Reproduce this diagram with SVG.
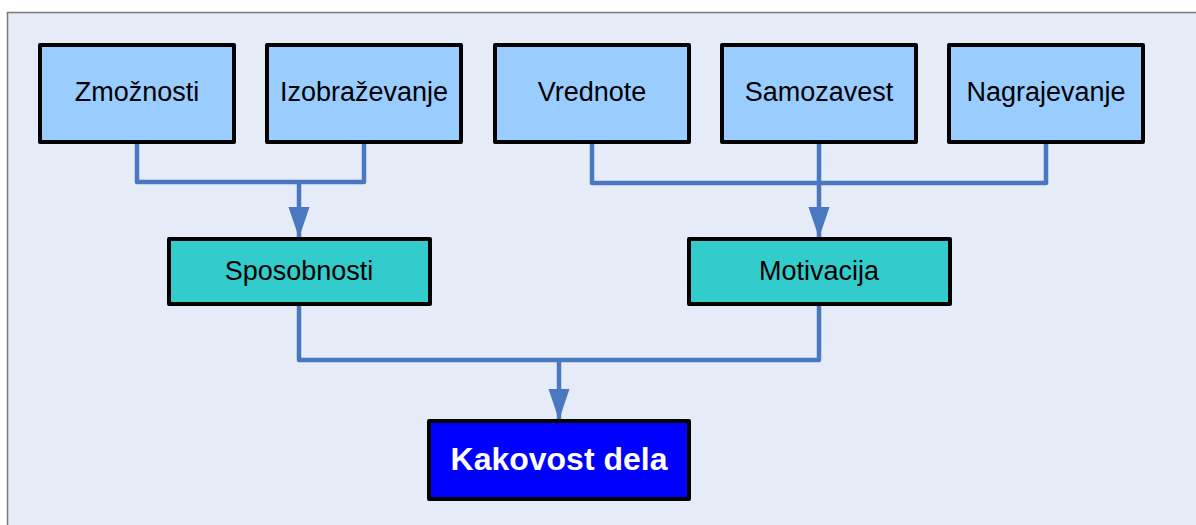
<svg xmlns="http://www.w3.org/2000/svg" width="1196" height="525" viewBox="0 0 1196 525">
  <style>
    .box rect { stroke: #000; stroke-width: 4; stroke-linejoin: round; }
    .src rect { fill: #99CCFF; }
    .mid rect { fill: #33CCCC; }
    .top rect { fill: #0000FF; }
    text { font-family: "Liberation Sans", Arial, sans-serif; font-size: 27px; fill: #000; text-anchor: middle; }
    .top text { font-weight: bold; font-size: 32px; fill: #fff; }
    .wire { fill: none; stroke: #4A78C0; stroke-width: 4.5; stroke-linejoin: round; }
  </style>
  <defs>
    <marker id="arrow" viewBox="0 0 31 22" refX="30" refY="11" markerWidth="31" markerHeight="22" markerUnits="userSpaceOnUse" orient="auto">
      <path d="M0,0.5 L31,11 L0,21.5 Z" fill="#4A78C0"/>
    </marker>
  </defs>

  <!-- backdrop panel -->
  <rect x="7.5" y="12.5" width="1200" height="530" fill="#E6ECF7" stroke="#7A7A7A" stroke-width="1.5"/>

  <!-- connectors -->
  <g id="connectors">
    <path class="wire" d="M137,144 V182 H364 V144"/>
    <path class="wire" d="M299,182 V237" marker-end="url(#arrow)"/>
    <path class="wire" d="M592,144 V183 H1046 V144"/>
    <path class="wire" d="M819,144 V237" marker-end="url(#arrow)"/>
    <path class="wire" d="M299,306 V360 H819 V306"/>
    <path class="wire" d="M559,360 V419" marker-end="url(#arrow)"/>
  </g>

  <!-- top row -->
  <g id="zmoznosti" class="box src">
    <rect x="40" y="45" width="194" height="97"/>
    <text x="137" y="101">Zmožnosti</text>
  </g>
  <g id="izobrazevanje" class="box src">
    <rect x="267" y="45" width="194" height="97"/>
    <text x="364" y="101">Izobraževanje</text>
  </g>
  <g id="vrednote" class="box src">
    <rect x="495" y="45" width="194" height="97"/>
    <text x="592" y="101">Vrednote</text>
  </g>
  <g id="samozavest" class="box src">
    <rect x="722" y="45" width="194" height="97"/>
    <text x="819" y="101">Samozavest</text>
  </g>
  <g id="nagrajevanje" class="box src">
    <rect x="949" y="45" width="194" height="97"/>
    <text x="1046" y="101">Nagrajevanje</text>
  </g>

  <!-- middle row -->
  <g id="sposobnosti" class="box mid">
    <rect x="169" y="239" width="261" height="65"/>
    <text x="299" y="280">Sposobnosti</text>
  </g>
  <g id="motivacija" class="box mid">
    <rect x="689" y="239" width="261" height="65"/>
    <text x="819" y="280">Motivacija</text>
  </g>

  <!-- result -->
  <g id="kakovost" class="box top">
    <rect x="429" y="421" width="260" height="78"/>
    <text x="559" y="470">Kakovost dela</text>
  </g>
</svg>
